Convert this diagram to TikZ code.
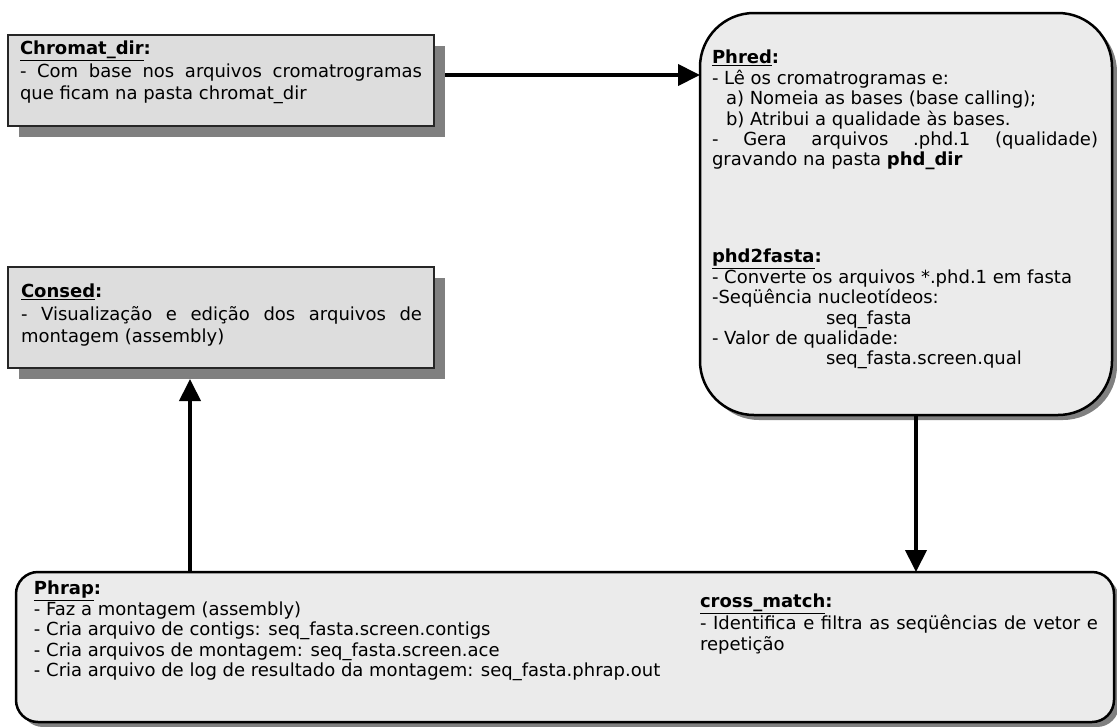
\documentclass[tikz,border=0pt]{standalone}
\usepackage{fontspec}
\setmainfont{DejaVu Sans}
\usetikzlibrary{arrows.meta,shadows}
\definecolor{sqfill}{RGB}{221,221,221}
\definecolor{rdfill}{RGB}{235,235,235}
\definecolor{shd}{RGB}{128,128,128}
\newcommand\hd[1]{\textbf{\underline{#1}}\textbf{:}}
\begin{document}
\begin{tikzpicture}[x=1pt,y=-1pt,
  sqbox/.style={draw=black!85, line width=1.5pt, fill=sqfill, anchor=north west, inner sep=0pt, outer sep=0pt,
    general shadow={fill=shd, shadow xshift=11pt, shadow yshift=-11pt}},
  rdbox/.style={draw=black, line width=2.5pt, fill=rdfill, anchor=north west, inner sep=0pt, outer sep=0pt,
    general shadow={fill=shd, shadow xshift=5pt, shadow yshift=-5pt}},
  txt/.style={anchor=north west, inner sep=0pt, outer sep=0pt, align=left, font=\fontsize{18}{20.4}\selectfont},
  txtb/.style={txt, font=\fontsize{18}{22.5}\selectfont},
  arr/.style={line width=4pt, -{Triangle[length=22pt,width=21pt]}}]
\useasboundingbox (0,0) rectangle (1117,726);

\node[sqbox, minimum width=426pt, minimum height=91pt] (chromat) at (8,35) {};
\node[sqbox, minimum width=426pt, minimum height=101pt] (consed) at (8,267) {};
\node[rdbox, rounded corners=54pt, minimum width=412pt, minimum height=402pt] (phred) at (700,13) {};
\node[rdbox, rounded corners=22pt, minimum width=1098pt, minimum height=150pt] (bottom) at (16,572) {};

\node[txtb] (tchromat) at (20,41.3) {\hd{Chromat\_dir}\\
  \makebox[402pt][s]{- Com base nos arquivos cromatrogramas}\\
  que ficam na pasta chromat\_dir};
\node[txtb] (tconsed) at (21,284.3) {\hd{Consed}\\
  \makebox[401pt][s]{- Visualização e edição dos arquivos de}\\
  montagem (assembly)};
\node[txt] (tphred) at (712,50.3) {\hd{Phred}\\
  - Lê os cromatrogramas e:\\
  \hspace*{14pt}a) Nomeia as bases (base calling);\\
  \hspace*{14pt}b) Atribui a qualidade às bases.\\
  \makebox[386pt][s]{- Gera arquivos .phd.1 (qualidade)}\\
  gravando na pasta \textbf{phd\_dir}};
\node[txt] (tphd) at (712,249.3) {\hd{phd2fasta}\\
  - Converte os arquivos *.phd.1 em fasta\\
  -Seqüência nucleotídeos:\\
  \hspace*{114pt}seq\_fasta\\
  - Valor de qualidade:\\
  \hspace*{114pt}seq\_fasta.screen.qual};
\node[txt] (tphrap) at (34,581.3) {\hd{Phrap}\\
  - Faz a montagem (assembly)\\
  - Cria arquivo de contigs: seq\_fasta.screen.contigs\\
  - Cria arquivos de montagem: seq\_fasta.screen.ace\\
  - Cria arquivo de log de resultado da montagem: seq\_fasta.phrap.out};
\node[txt] (tcross) at (700,594.3) {\hd{cross\_match}\\
  \makebox[398pt][s]{- Identifica e filtra as seqüências de vetor e}\\
  repetição};

\coordinate (s1) at ([shift={(11,40)}]chromat.north east);
\draw[arr] (s1) -- (s1 -| phred.west);
\coordinate (s2) at ([shift={(216,0)}]phred.south west);
\draw[arr] (s2) -- (s2 |- bottom.north);
\coordinate (s3) at ([shift={(182,11)}]consed.south west);
\draw[arr] (s3 |- bottom.north) -- (s3);
\end{tikzpicture}
\end{document}
